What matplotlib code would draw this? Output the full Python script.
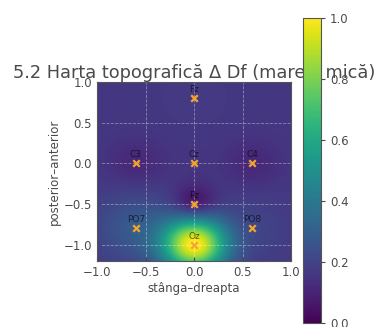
import numpy as np
import matplotlib
matplotlib.use("Agg")
from matplotlib import pyplot as plt

# electrode positions (left-right, posterior-anterior) and Δ Df values
names = ["Fz", "C3", "Cz", "C4", "Pz", "PO7", "PO8", "Oz"]
ex = [0.0, -0.6, 0.0, 0.6, 0.0, -0.6, 0.6, 0.0]
ey = [0.8, 0.0, 0.0, 0.0, -0.5, -0.8, -0.8, -1.0]
vals = [0.17, 0.11, 0.15, 0.11, 0.0, 0.28, 0.2, 1.0]
spread = [0.25, 0.2, 0.15, 0.2, 0.15, 0.3, 0.3, 0.23]
baseline = 0.16

cbar_ticks = [0.0, 0.2, 0.4, 0.6, 0.8, 1.0]

# smooth map: baseline plus gaussian bumps at each electrode
gx, gy = np.meshgrid(np.linspace(-1, 1, 300), np.linspace(-1.2, 1.0, 330))
field = np.full(gx.shape, baseline)
for x0, y0, v, s in zip(ex, ey, vals, spread):
    field += (v - baseline) * np.exp(-((gx - x0)**2 + (gy - y0)**2) / (2 * s**2))
field = np.clip(field, 0, 1)

txt = "#4a4a4a"
fig = plt.figure(figsize=(3.76, 3.27), dpi=100)
ax = fig.add_axes([0.258, 0.202, 0.516, 0.547])
cax = fig.add_axes([0.806, 0.012, 0.048, 0.933])

im = ax.imshow(field, extent=[-1, 1, -1.2, 1.0], origin="lower", cmap="viridis",
               vmin=0, vmax=1, aspect="auto", interpolation="bilinear")
ax.scatter(ex, ey, marker="x", s=22, color="#f5a52a", linewidths=1.6, zorder=3)
for n, x0, y0 in zip(names, ex, ey):
    ax.annotate(n, (x0, y0), xytext=(0, 3), textcoords="offset points",
                ha="center", va="bottom", fontsize=6.5, color="black", alpha=0.6, zorder=4)

ax.set_xlim(-1, 1)
ax.set_ylim(-1.2, 1.0)
ax.set_xticks([-1.0, -0.5, 0.0, 0.5, 1.0])
ax.set_yticks([-1.0, -0.5, 0.0, 0.5, 1.0])
ax.grid(True, color="white", linestyle="--", linewidth=0.6, alpha=0.4)
ax.tick_params(direction="in", length=3, labelsize=8.5, colors=txt, labelcolor=txt)
for sp in ax.spines.values():
    sp.set_color("#555555")
    sp.set_linewidth(0.8)
ax.set_xlabel("stânga–dreapta", fontsize=8.5, color=txt, labelpad=2)
ax.set_ylabel("posterior–anterior", fontsize=8.5, color=txt, labelpad=2)
ax.set_title("5.2 Harta topografică Δ Df (mare – mică)", fontsize=12.8, color=txt, pad=3)

cb = fig.colorbar(im, cax=cax, ticks=cbar_ticks)
cb.ax.tick_params(labelsize=8.5, colors=txt, labelcolor=txt, length=3)
cb.outline.set_edgecolor("#555555")

fig.savefig("out.png", dpi=100)
